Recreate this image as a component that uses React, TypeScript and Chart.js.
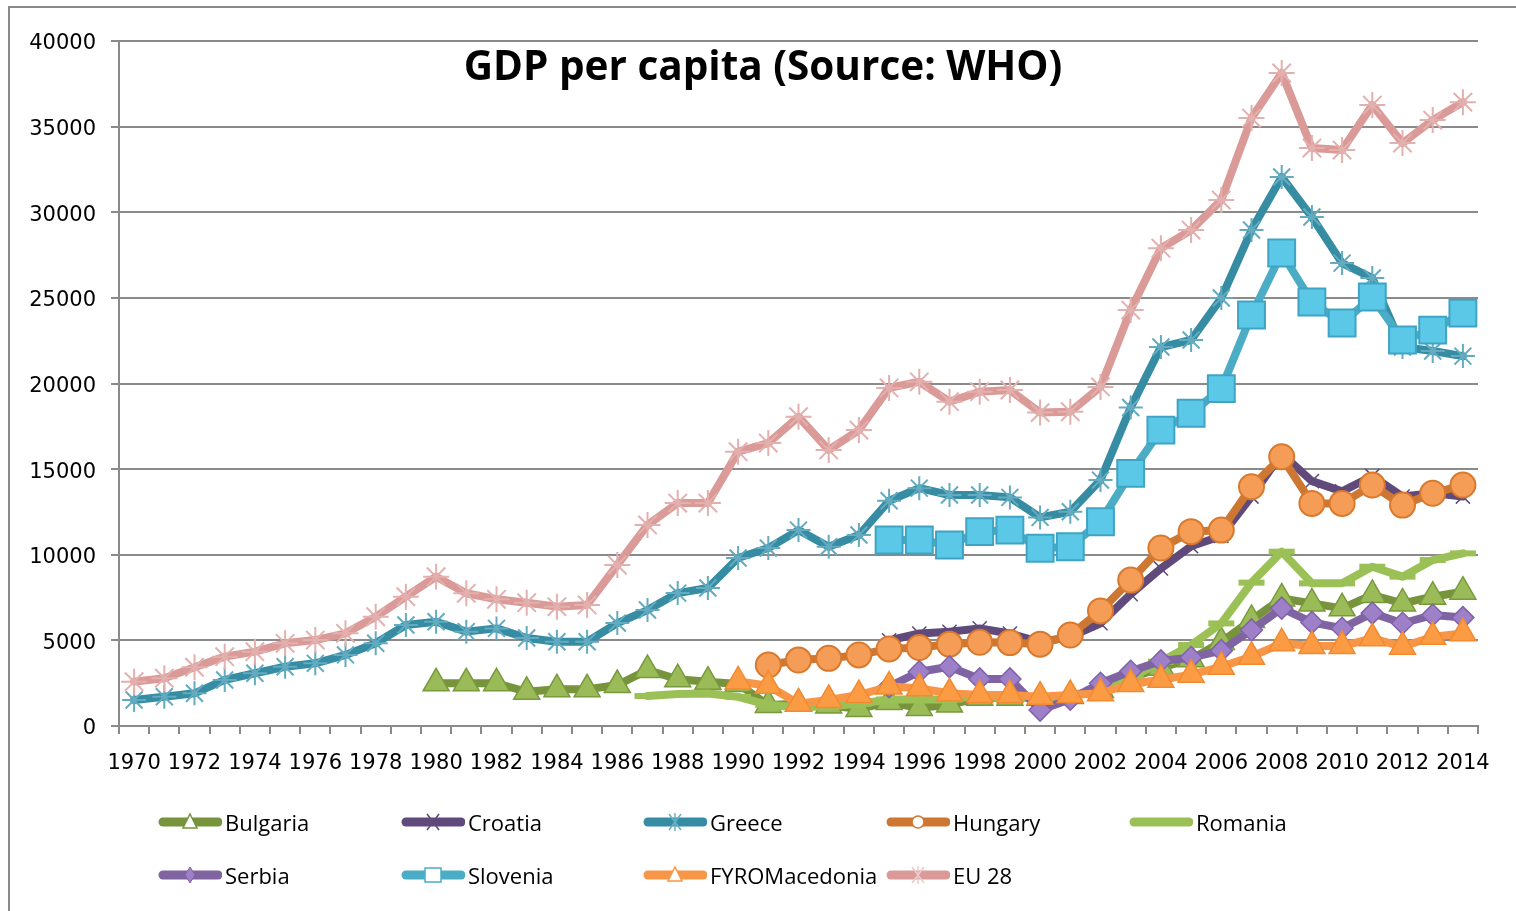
import React, { useEffect, useRef } from "react";
import { Chart, registerables } from "chart.js";

Chart.register(...registerables);

const TITLE = "GDP per capita (Source: WHO)";

const years = [
  "1970", "1971", "1972", "1973", "1974", "1975", "1976", "1977", "1978", "1979",
  "1980", "1981", "1982", "1983", "1984", "1985", "1986", "1987", "1988", "1989",
  "1990", "1991", "1992", "1993", "1994", "1995", "1996", "1997", "1998", "1999",
  "2000", "2001", "2002", "2003", "2004", "2005", "2006", "2007", "2008", "2009",
  "2010", "2011", "2012", "2013", "2014",
];

const yTicks = [0, 5000, 10000, 15000, 20000, 25000, 30000, 35000, 40000];

const N = null;

const bulgaria = [
  N, N, N, N, N, N, N, N, N, N,
  2490, 2490, 2490, 2000, 2140, 2140, 2390, 3270, 2730, 2590,
  2450, 1230, 1300, 1200, 1000, 1400, 1050, 1250, 1650, 1650,
  1650, 1750, 2100, 2800, 3400, 3900, 4900, 6190, 7450, 7160,
  6870, 7650, 7160, 7550, 7840,
];

const croatia = [
  N, N, N, N, N, N, N, N, N, N,
  N, N, N, N, N, N, N, N, N, N,
  N, N, N, N, N, 5000, 5400, 5500, 5700, 5400,
  4900, 5200, 6000, 7700, 9200, 10500, 11100, 13400, 15900, 14300,
  13700, 14600, 13400, 13600, 13400,
];

const greece = [
  1520, 1710, 1910, 2690, 3080, 3460, 3660, 4150, 4830, 5900,
  6090, 5510, 5700, 5140, 4920, 4920, 6010, 6770, 7760, 8060,
  9810, 10390, 11440, 10470, 11150, 13150, 13890, 13490, 13490, 13350,
  12180, 12510, 14360, 18600, 22130, 22540, 24990, 28960, 32060, 29720,
  27030, 26160, 22130, 21900, 21600,
];

const hungary = [
  N, N, N, N, N, N, N, N, N, N,
  N, N, N, N, N, N, N, N, N, N,
  N, 3560, 3850, 3950, 4150, 4500, 4580, 4780, 4890, 4870,
  4780, 5310, 6720, 8520, 10390, 11350, 11440, 13970, 15720, 13000,
  13000, 14070, 12900, 13590, 14070,
];

const romania = [
  N, N, N, N, N, N, N, N, N, N,
  N, N, N, N, N, N, N, 1750, 1870, 1900,
  1700, 1230, 1100, 1150, 1300, 1550, 1550, 1550, 1800, 1600,
  1650, 1800, 2100, 2790, 3760, 4730, 5990, 8370, 10180, 8330,
  8330, 9300, 8720, 9690, 10080,
];

const serbia = [
  N, N, N, N, N, N, N, N, N, N,
  N, N, N, N, N, N, N, N, N, N,
  N, N, N, N, N, 2300, 3170, 3460, 2750, 2750,
  930, 1560, 2500, 3200, 3800, 4000, 4400, 5610, 6880, 6050,
  5710, 6590, 6000, 6480, 6330,
];

const slovenia = [
  N, N, N, N, N, N, N, N, N, N,
  N, N, N, N, N, N, N, N, N, N,
  N, N, N, N, N, 10860, 10860, 10570, 11350, 11440,
  10380, 10470, 11930, 14750, 17280, 18260, 19700, 24000, 27620, 24760,
  23530, 25050, 22540, 23120, 24110,
];

const fyroMacedonia = [
  N, N, N, N, N, N, N, N, N, N,
  N, N, N, N, N, N, N, N, N, N,
  2600, 2350, 1300, 1520, 1810, 2300, 2200, 1910, 1810, 1810,
  1710, 1810, 1910, 2450, 2700, 3000, 3460, 4050, 4830, 4670,
  4670, 5120, 4630, 5210, 5410,
];

const eu28 = [
  2590, 2790, 3430, 4050, 4340, 4830, 5020, 5410, 6380, 7550,
  8720, 7750, 7400, 7200, 6970, 7070, 9400, 11740, 13020, 13020,
  16020, 16520, 18060, 16120, 17280, 19740, 20100, 18940, 19520, 19620,
  18300, 18350, 19800, 24290, 27900, 28960, 30710, 35500, 38130, 33750,
  33630, 36260, 34040, 35380, 36430,
];

type Series = {
  name: string;
  data: (number | null)[];
  line: string;
  fill: string;
  edge: string;
  style: string;
  radius: number;
  pbw: number;
};

const series: Series[] = [
  { name: "Bulgaria", data: bulgaria, line: "#77933c", fill: "#9bbb59", edge: "#789a3c", style: "triangle", radius: 15, pbw: 1.5 },
  { name: "Croatia", data: croatia, line: "#604a7b", fill: "#604a7b", edge: "#604a7b", style: "crossRot", radius: 10, pbw: 1.5 },
  { name: "Greece", data: greece, line: "#368ca2", fill: "#5fa9bf", edge: "#62abc0", style: "star", radius: 12, pbw: 2 },
  { name: "Hungary", data: hungary, line: "#cd7732", fill: "#f59d56", edge: "#d8792d", style: "circle", radius: 12.5, pbw: 2 },
  { name: "Romania", data: romania, line: "#9bc156", fill: "#a9cf6b", edge: "#9bc156", style: "line", radius: 13, pbw: 6 },
  { name: "Serbia", data: serbia, line: "#8064a2", fill: "#9d80c8", edge: "#7f63a8", style: "rectRot", radius: 11, pbw: 1.5 },
  { name: "Slovenia", data: slovenia, line: "#4bacc6", fill: "#5cc8e8", edge: "#3fa4c4", style: "rect", radius: 19, pbw: 2 },
  { name: "FYROMacedonia", data: fyroMacedonia, line: "#f79646", fill: "#fb9c45", edge: "#f38a30", style: "triangle", radius: 15, pbw: 1.5 },
  { name: "EU 28", data: eu28, line: "#d99a98", fill: "#e4b1af", edge: "#e3b0ae", style: "star", radius: 13, pbw: 2 },
];

const legendCols = [163, 406, 648, 891, 1134];
const legendRows = [822, 875];

const titlePlugin = {
  id: "overlayTitle",
  afterDraw(chart: any) {
    const ctx = chart.ctx;
    ctx.save();
    ctx.font = 'bold 40.5px "Open Sans"';
    ctx.fillStyle = "#000";
    ctx.textAlign = "center";
    ctx.textBaseline = "alphabetic";
    ctx.fillText(TITLE, 763, 80);
    ctx.restore();
  },
};

function LegendMarker({ s }: { s: Series }) {
  const c = s.line;
  const cx = 32;
  const cy = 10;
  let m: React.ReactNode = null;
  if (s.style === "triangle") {
    m = <polygon points={`${cx},${cy - 8} ${cx + 7},${cy + 6} ${cx - 7},${cy + 6}`} fill="#fff" stroke={c} strokeWidth={1.5} />;
  } else if (s.style === "crossRot") {
    m = (
      <g stroke={c} strokeWidth={1.5}>
        <line x1={cx - 6} y1={cy - 8} x2={cx + 6} y2={cy + 8} />
        <line x1={cx + 6} y1={cy - 8} x2={cx - 6} y2={cy + 8} />
      </g>
    );
  } else if (s.style === "star") {
    m = (
      <g stroke={s.name === "EU 28" ? "#eccac9" : "#6ab0c4"} strokeWidth={1.5}>
        <line x1={cx - 6} y1={cy - 8} x2={cx + 6} y2={cy + 8} />
        <line x1={cx + 6} y1={cy - 8} x2={cx - 6} y2={cy + 8} />
        <line x1={cx} y1={cy - 9} x2={cx} y2={cy + 9} />
      </g>
    );
  } else if (s.style === "circle") {
    m = <circle cx={cx} cy={cy} r={6} fill="#fff" stroke={c} strokeWidth={1.5} />;
  } else if (s.style === "rectRot") {
    m = <polygon points={`${cx},${cy - 8} ${cx + 5},${cy} ${cx},${cy + 8} ${cx - 5},${cy}`} fill={s.fill} stroke={c} strokeWidth={1} />;
  } else if (s.style === "rect") {
    m = <rect x={cx - 8} y={cy - 7} width={16} height={14} fill="#fff" stroke={c} strokeWidth={1.5} />;
  }
  return (
    <svg width={64} height={20} style={{ display: "block" }}>
      <line x1={5} y1={10} x2={60} y2={10} stroke={c} strokeWidth={9} strokeLinecap="round" />
      {m}
    </svg>
  );
}

export default function App() {
  const ref = useRef<HTMLCanvasElement | null>(null);

  useEffect(() => {
    const canvas = ref.current;
    if (!canvas) return;
    const chart = new Chart(canvas, {
      type: "line",
      data: {
        labels: years,
        datasets: series.map((s, i) => ({
          label: s.name,
          data: s.data,
          order: -i,
          borderColor: s.line,
          backgroundColor: s.line,
          borderWidth: 8,
          borderJoinStyle: "round" as const,
          borderCapStyle: "round" as const,
          tension: 0,
          spanGaps: false,
          fill: false,
          pointStyle: s.style as any,
          pointRadius: s.radius,
          pointHoverRadius: s.radius,
          pointBackgroundColor: s.fill,
          pointBorderColor: s.edge,
          pointBorderWidth: s.pbw,
        })),
      },
      options: {
        animation: false,
        responsive: false,
        maintainAspectRatio: false,
        layout: { padding: { left: 0, right: 38, top: 41, bottom: 125 } },
        plugins: {
          legend: { display: false },
          title: { display: false },
          tooltip: { enabled: false },
        },
        scales: {
          x: {
            type: "category",
            offset: true,
            grid: {
              offset: true,
              drawOnChartArea: false,
              drawTicks: true,
              tickLength: 8,
              color: "#8a8a8a",
              lineWidth: 2,
            },
            border: { display: true, color: "#8a8a8a", width: 2 },
            ticks: {
              autoSkip: false,
              maxRotation: 0,
              minRotation: 0,
              padding: 17,
              color: "#000",
              font: { family: '"DejaVu Sans"', size: 21 },
              callback: (_v: any, idx: number) => (idx % 2 === 0 ? years[idx] : ""),
            },
            afterFit: (scale: any) => {
              scale.height = 60;
            },
          },
          y: {
            min: 0,
            max: 40000,
            afterBuildTicks: (scale: any) => {
              scale.ticks = yTicks.map((v) => ({ value: v }));
            },
            grid: {
              drawTicks: true,
              tickLength: 8,
              color: "#8a8a8a",
              lineWidth: 2,
            },
            border: { display: true, color: "#8a8a8a", width: 2 },
            ticks: {
              padding: 15,
              labelOffset: 3,
              color: "#000",
              font: { family: '"DejaVu Sans"', size: 21 },
              callback: (v: any) => String(v),
            },
            afterFit: (scale: any) => {
              scale.width = 119;
            },
          },
        },
      },
      plugins: [titlePlugin],
    });
    return () => chart.destroy();
  }, []);

  return (
    <div style={{ position: "absolute", left: 0, top: 0, width: 1516, height: 911, overflow: "hidden", background: "#fff" }}>
      <div style={{ position: "absolute", left: 8, top: 6, width: 1600, height: 1000, border: "2px solid #8a8a8a" }} />
      <canvas ref={ref} width={1516} height={911} style={{ position: "absolute", left: 0, top: 0, width: 1516, height: 911 }} />
      {series.map((s, i) => {
        const col = i < 5 ? i : i - 5;
        const row = i < 5 ? 0 : 1;
        return (
          <div
            key={s.name}
            style={{
              position: "absolute",
              left: legendCols[col] - 5,
              top: legendRows[row] - 10,
              display: "flex",
              alignItems: "center",
              height: 20,
              whiteSpace: "nowrap",
            }}
          >
            <LegendMarker s={s} />
            <span style={{ fontFamily: '"Open Sans"', fontSize: 22, color: "#000", marginLeft: 3, lineHeight: "20px" }}>{s.name}</span>
          </div>
        );
      })}
    </div>
  );
}
